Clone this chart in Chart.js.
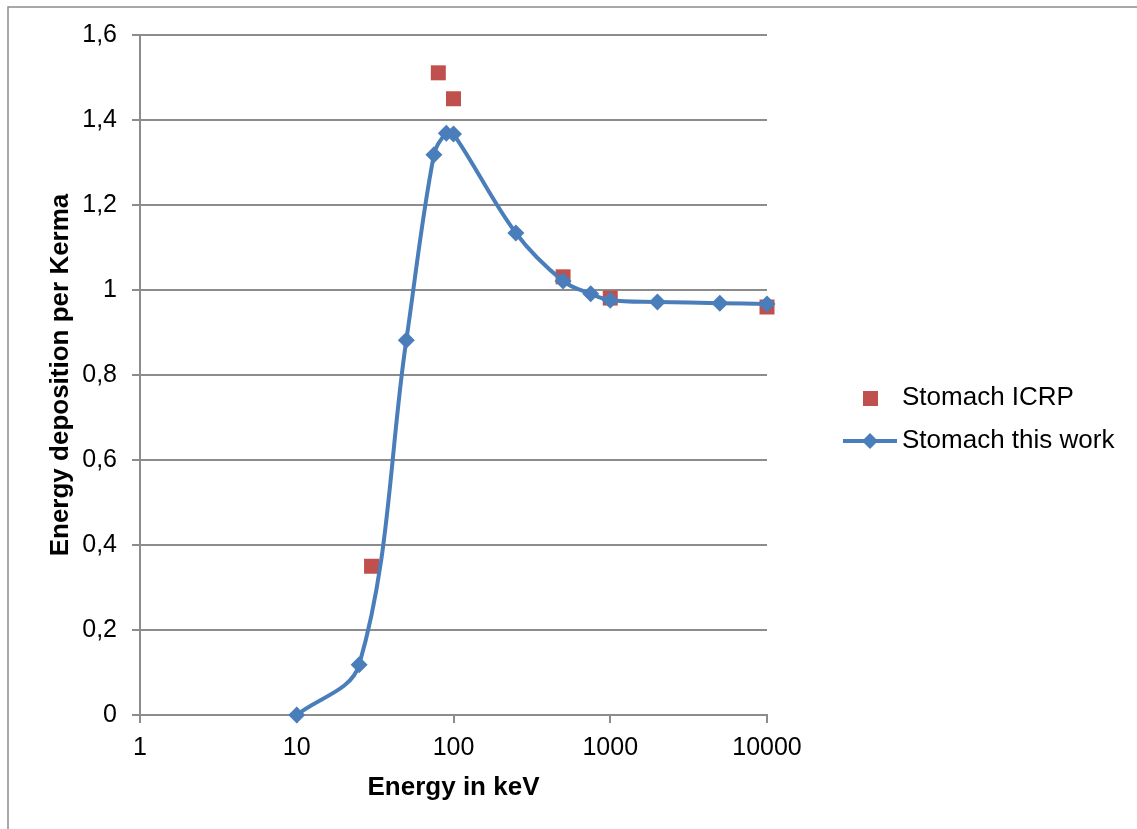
<!DOCTYPE html>
<html>
<head>
<meta charset="utf-8">
<script src="https://cdn.jsdelivr.net/npm/chart.js@4.4.1/dist/chart.umd.min.js"></script>
<style>
    html, body { margin: 0; padding: 0; background: #fff; }
    #wrap { position: relative; width: 1137px; height: 829px; }
</style>
</head>
<body>
<div id="wrap"><canvas id="stomachChart" width="1137" height="829"></canvas></div>
<script>
// --- data ---
const workEnergies = [10, 25, 50, 75, 90, 100, 250, 500, 750, 1000, 2000, 5000, 10000];
const workValues   = [0, 0.118, 0.882, 1.318, 1.369, 1.367, 1.134, 1.021, 0.991, 0.976, 0.972, 0.969, 0.967];

const icrpEnergies = [30, 80, 100, 500, 1000, 10000];
const icrpValues   = [0.35, 1.511, 1.45, 1.031, 0.981, 0.96];

const xTickValues = [1, 10, 100, 1000, 10000];
const yTickValues = [0, 0.2, 0.4, 0.6, 0.8, 1, 1.2, 1.4, 1.6];

const legendLabels = ['Stomach ICRP', 'Stomach this work'];

const blue = '#4A7EBB';
const red = '#C0504D';
const gridGray = '#8c8c8c';
const fontFamily = "'Liberation Sans', Arial, sans-serif";

const toPoints = (xs, ys) => xs.map((x, i) => ({ x: x, y: ys[i] }));

// frame of the chart box (only top and left edges are visible)
const framePlugin = {
    id: 'frame',
    beforeDraw(chart) {
        const ctx = chart.ctx;
        ctx.save();
        ctx.fillStyle = '#fff';
        ctx.fillRect(0, 0, chart.width, chart.height);
        ctx.strokeStyle = gridGray;
        ctx.lineWidth = 1.5;
        ctx.beginPath();
        ctx.moveTo(8, chart.height);
        ctx.lineTo(8, 7);
        ctx.lineTo(chart.width, 7);
        ctx.stroke();
        ctx.restore();
    }
};

// legend drawn on the right like the original
const legendPlugin = {
    id: 'sideLegend',
    afterDraw(chart) {
        const ctx = chart.ctx;
        ctx.save();
        ctx.font = '26px ' + fontFamily;
        ctx.textBaseline = 'middle';

        ctx.fillStyle = red;
        ctx.fillRect(863, 391, 15, 15);
        ctx.fillStyle = '#000';
        ctx.fillText(legendLabels[0], 902, 398);

        ctx.strokeStyle = blue;
        ctx.lineWidth = 4;
        ctx.beginPath();
        ctx.moveTo(843, 441);
        ctx.lineTo(897, 441);
        ctx.stroke();
        ctx.fillStyle = blue;
        ctx.beginPath();
        ctx.moveTo(870, 433);
        ctx.lineTo(878, 441);
        ctx.lineTo(870, 449);
        ctx.lineTo(862, 441);
        ctx.closePath();
        ctx.fill();
        ctx.fillStyle = '#000';
        ctx.fillText(legendLabels[1], 902, 441);
        ctx.restore();
    }
};

const ctx = document.getElementById('stomachChart').getContext('2d');
new Chart(ctx, {
    type: 'scatter',
    data: {
        datasets: [{
            label: legendLabels[1],
            data: toPoints(workEnergies, workValues),
            showLine: true,
            clip: false,
            borderColor: blue,
            borderWidth: 4,
            tension: 0.35,
            pointStyle: 'rectRot',
            pointRadius: 8.5,
            pointBorderWidth: 0,
            pointBackgroundColor: blue,
            order: 0
        }, {
            label: legendLabels[0],
            data: toPoints(icrpEnergies, icrpValues),
            showLine: false,
            clip: false,
            pointStyle: 'rect',
            pointRadius: 10.6,
            pointBorderWidth: 0,
            pointBackgroundColor: red,
            order: 1
        }]
    },
    options: {
        responsive: false,
        animation: false,
        layout: { padding: { left: 0, top: 35, right: 370, bottom: 0 } },
        plugins: {
            legend: { display: false },
            tooltip: { enabled: false }
        },
        scales: {
            x: {
                type: 'logarithmic',
                min: 1,
                max: 10000,
                afterBuildTicks: (scale) => { scale.ticks = xTickValues.map(v => ({ value: v })); },
                afterFit: (scale) => { scale.height = 114; },
                ticks: {
                    autoSkip: false,
                    maxRotation: 0,
                    padding: 10,
                    color: '#000',
                    font: { family: fontFamily, size: 25 },
                    callback: (value) => String(value)
                },
                grid: {
                    drawOnChartArea: false,
                    drawTicks: true,
                    tickLength: 8,
                    color: gridGray,
                    lineWidth: 2
                },
                border: { color: gridGray, width: 2 },
                title: {
                    display: true,
                    text: 'Energy in keV',
                    color: '#000',
                    font: { family: fontFamily, size: 26, weight: 'bold' },
                    padding: { top: 0, bottom: 26 }
                }
            },
            y: {
                min: 0,
                max: 1.6,
                afterBuildTicks: (scale) => { scale.ticks = yTickValues.map(v => ({ value: v })); },
                afterFit: (scale) => { scale.width = 140; },
                ticks: {
                    padding: 15,
                    color: '#000',
                    font: { family: fontFamily, size: 25 },
                    callback: (value) => String(Number(value.toFixed(1))).replace('.', ',')
                },
                grid: {
                    tickLength: 8,
                    color: gridGray,
                    lineWidth: 2
                },
                border: { color: gridGray, width: 2 },
                title: {
                    display: true,
                    text: 'Energy deposition per Kerma',
                    color: '#000',
                    font: { family: fontFamily, size: 26, weight: 'bold' },
                    padding: { top: 45, bottom: 0 }
                }
            }
        }
    },
    plugins: [framePlugin, legendPlugin]
});
</script>
</body>
</html>
